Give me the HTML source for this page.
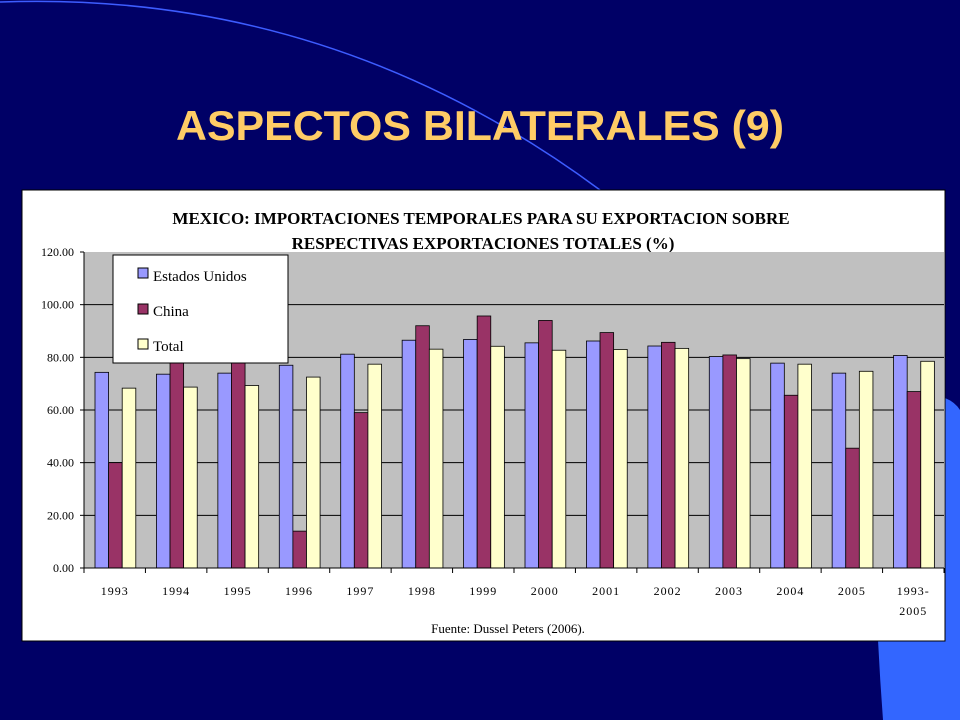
<!DOCTYPE html>
<html><head><meta charset="utf-8"><style>
html,body{margin:0;padding:0;background:#000066;}
svg{display:block;}
</style></head><body>
<svg id="slide" width="960" height="720" viewBox="0 0 960 720" xmlns="http://www.w3.org/2000/svg">
<rect x="0" y="0" width="960" height="720" fill="#000066"/>
<path d="M0,2 Q330,-10 600,190" fill="none" stroke="#3d5cff" stroke-width="1.5"/>
<path d="M945,398 Q955,402 960,410 L960,720 L883,720 Q880,680 878,640 L945,640 Z" fill="#3366ff"/>
<text x="480" y="140" text-anchor="middle" font-family="Liberation Sans, sans-serif" font-weight="bold" font-size="42" fill="#ffcc66" textLength="608" lengthAdjust="spacingAndGlyphs">ASPECTOS BILATERALES (9)</text>
<rect x="22" y="190" width="923" height="451" fill="#ffffff" stroke="#000" stroke-width="1"/>
<text x="481" y="224" text-anchor="middle" font-family="Liberation Serif, serif" font-weight="bold" font-size="17" fill="#000">MEXICO: IMPORTACIONES TEMPORALES PARA SU EXPORTACION SOBRE</text>
<text x="483" y="249" text-anchor="middle" font-family="Liberation Serif, serif" font-weight="bold" font-size="17" fill="#000">RESPECTIVAS EXPORTACIONES TOTALES (%)</text>
<rect x="84" y="252" width="860" height="316" fill="#c0c0c0"/>
<g id="grid"></g>
<g id="bars"></g>
<g id="axes"></g>
<g>
<rect x="113" y="255" width="175" height="108" fill="#fff" stroke="#000" stroke-width="1"/>
<rect x="138" y="268" width="10" height="10" fill="#9999ff" stroke="#000"/>
<text x="153" y="281" font-family="Liberation Serif, serif" font-size="15">Estados Unidos</text>
<rect x="138" y="304" width="10" height="10" fill="#993366" stroke="#000"/>
<text x="153" y="316" font-family="Liberation Serif, serif" font-size="15">China</text>
<rect x="138" y="339" width="10" height="10" fill="#ffffcc" stroke="#000"/>
<text x="153" y="351" font-family="Liberation Serif, serif" font-size="15">Total</text>
</g>
<text x="508" y="633" text-anchor="middle" font-family="Liberation Serif, serif" font-size="13">Fuente: Dussel Peters (2006).</text>
</svg>
<script>
const categories = ["1993","1994","1995","1996","1997","1998","1999","2000","2001","2002","2003","2004","2005","1993-2005"];
const usValues = [74.3,73.6,74.0,77.0,81.2,86.5,86.8,85.5,86.2,84.3,80.3,77.8,74.0,80.7];
const chinaValues = [40.0,84.0,85.0,14.0,59.0,92.0,95.7,94.0,89.4,85.7,80.9,65.6,45.5,67.0];
const totalValues = [68.3,68.7,69.3,72.5,77.4,83.1,84.2,82.7,83.0,83.4,79.5,77.4,74.7,78.5];
const yTicks = [0,20,40,60,80,100,120];
const yTickLabels = ["0.00","20.00","40.00","60.00","80.00","100.00","120.00"];

const NS = "http://www.w3.org/2000/svg";
const X0 = 84, X1 = 944, Y0 = 568, Y1 = 252, YMAX = 120;
const band = (X1 - X0) / categories.length;
const yScale = v => Y0 - (v / YMAX) * (Y0 - Y1);
const xBand = i => X0 + i * band;
function mk(tag, attrs){ const e = document.createElementNS(NS, tag); for (const k in attrs) e.setAttribute(k, attrs[k]); return e; }

const grid = document.getElementById('grid');
yTicks.forEach((t,i) => {
  if (t > 0 && t < YMAX) {
    const l = mk('line', {x1:X0, x2:X1, y1:yScale(t), y2:yScale(t), stroke:'#000', 'stroke-width':1});
    
    
    grid.appendChild(l);
  }
});

const bars = document.getElementById('bars');
const series = [[usValues,'#9999ff','bar-estados-unidos'],[chinaValues,'#993366','bar-china'],[totalValues,'#ffffcc','bar-total']];
const barW = 13.6, groupOff = 11;
categories.forEach((c,i) => {
  series.forEach((s,j) => {
    const v = s[0][i];
    const x = xBand(i) + groupOff + j*barW;
    const r = mk('rect', {x:x, y:yScale(v), width:barW, height:Y0 - yScale(v), fill:s[1], stroke:'#000', 'stroke-width':0.8});
    
    
    bars.appendChild(r);
  });
});

const axes = document.getElementById('axes');
const ya = mk('line', {x1:X0, x2:X0, y1:Y1, y2:Y0, stroke:'#000', 'stroke-width':1});


axes.appendChild(ya);
const xa = mk('line', {x1:X0, x2:X1, y1:Y0, y2:Y0, stroke:'#000', 'stroke-width':1});


axes.appendChild(xa);
yTicks.forEach((t,i) => {
  const tk = mk('line', {x1:X0-4, x2:X0, y1:yScale(t), y2:yScale(t), stroke:'#000'});
  
  
  axes.appendChild(tk);
  const tx = mk('text', {x:X0-10, y:yScale(t)+4, 'text-anchor':'end', 'font-family':'Liberation Serif, serif', 'font-size':12});
  tx.textContent = yTickLabels[i];
  
  
  axes.appendChild(tx);
});
for (let i = 0; i <= categories.length; i++) {
  const tk = mk('line', {x1:xBand(i), x2:xBand(i), y1:Y0, y2:Y0+5, stroke:'#000'});
  
  
  axes.appendChild(tk);
}
categories.forEach((c,i) => {
  const cx = xBand(i) + band/2;
  const parts = c.indexOf('-') > 0 ? [c.split('-')[0] + '-', c.split('-')[1]] : [c];
  parts.forEach((p,k) => {
    const tx = mk('text', {x:cx, y:595 + k*20, 'text-anchor':'middle', 'font-family':'Liberation Serif, serif', 'font-size':12, 'letter-spacing':'1'});
    tx.textContent = p;
    
    
    axes.appendChild(tx);
  });
});
</script>
</body></html>
